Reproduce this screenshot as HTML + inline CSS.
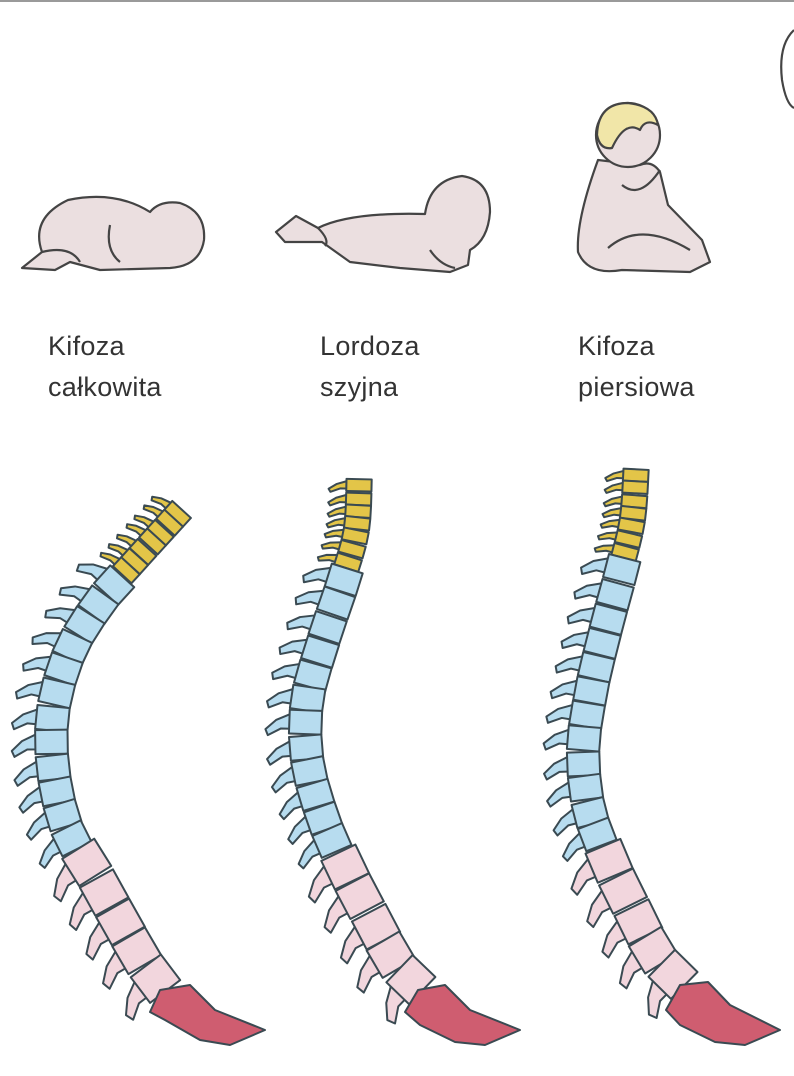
<!DOCTYPE html>
<html><head><meta charset="utf-8"><style>
html,body{margin:0;padding:0;background:#fff;width:794px;height:1076px;overflow:hidden;}
svg{position:absolute;left:0;top:0}
.lbl{position:absolute;font-family:"Liberation Sans",sans-serif;font-size:27px;color:#333;line-height:41px;letter-spacing:0.3px}
</style></head><body>
<svg id="s" width="794" height="1076" viewBox="0 0 794 1076">
<rect x="0" y="0" width="794" height="2" fill="#9a9a9a"/>
<g fill="#ebdfe0" stroke="#444" stroke-width="2.2" stroke-linejoin="round">
 <path d="M22,268 L42,252 Q30,218 68,200 Q115,190 150,212 Q160,200 180,203 Q206,212 204,240 Q200,266 170,268 L100,270 L70,262 L55,270 Z"/>
 <path d="M42,252 Q70,245 80,262" fill="none"/>
 <path d="M110,225 Q105,250 120,262" fill="none"/>
 <path d="M276,232 L296,216 L318,228 Q350,212 425,214 Q430,180 462,176 Q490,180 490,212 Q488,240 470,250 L468,265 L450,272 L400,268 L350,262 L322,242 L285,242 Z"/>
 <path d="M318,228 Q330,240 325,246" fill="none"/>
 <path d="M430,250 Q440,265 455,268" fill="none"/>
 <path d="M598,160 Q576,220 578,252 Q588,276 622,270 L690,272 L710,262 L702,240 L668,205 L660,172 Q652,160 640,165 Z"/>
 <circle cx="628" cy="135" r="32"/>
 <path d="M597,135 Q598,103 628,103 Q655,106 658,125 Q645,118 640,130 Q625,120 612,148 Q600,150 597,135 Z" fill="#f1e6a8"/>
 <path d="M622,185 Q640,200 660,170" fill="none"/>
 <path d="M608,248 Q640,220 690,250" fill="none"/>
 <path d="M794,30 Q778,45 782,80 Q786,104 794,108" fill="none"/>
</g>
<g id="sp" stroke="#3a4a52" stroke-width="2" stroke-linejoin="round"></g>
</svg>
<div class="lbl" style="left:48px;top:326px">Kifoza<br>całkowita</div>
<div class="lbl" style="left:320px;top:326px">Lordoza<br>szyjna</div>
<div class="lbl" style="left:578px;top:326px">Kifoza<br>piersiowa</div>
<script>
var spines=[
 {p:[[180,505],[130,560],[95,600],[65,650],[48,710],[48,770],[62,830],[90,880],[115,925],[138,965],[160,995]],s:[[160,990],[190,985],[215,1010],[265,1030],[230,1045],[200,1040],[165,1020],[150,1012]]},
 {p:[[355,478],[352,530],[338,580],[318,640],[302,700],[302,760],[318,820],[342,875],[368,925],[392,968],[418,995]],s:[[418,990],[445,985],[470,1010],[520,1030],[485,1045],[455,1042],[420,1025],[405,1012]]},
 {p:[[632,468],[628,520],[616,570],[600,630],[586,690],[578,750],[584,810],[604,865],[628,915],[652,960],[680,990]],s:[[680,985],[708,982],[730,1005],[780,1030],[745,1045],[715,1042],[680,1025],[666,1010]]}
];
function cr(pts,n){var out=[];for(var i=0;i<pts.length-1;i++){var p0=pts[Math.max(0,i-1)],p1=pts[i],p2=pts[i+1],p3=pts[Math.min(pts.length-1,i+2)];for(var k=0;k<n;k++){var t=k/n,t2=t*t,t3=t2*t;var f=function(a,b,c,d){return 0.5*((2*b)+(-a+c)*t+(2*a-5*b+4*c-d)*t2+(-a+3*b-3*c+d)*t3)};out.push([f(p0[0],p1[0],p2[0],p3[0]),f(p0[1],p1[1],p2[1],p3[1])]);}}out.push(pts[pts.length-1]);return out;}
var g=document.getElementById('sp'),h='';
spines.forEach(function(sp){
 var c=cr(sp.p,30),L=[0];for(var i=1;i<c.length;i++){L.push(L[i-1]+Math.hypot(c[i][0]-c[i-1][0],c[i][1]-c[i-1][1]));}
 var T=L[L.length-1];
 var defs=[];for(var i=0;i<7;i++)defs.push(['#e3c548',28]);for(i=0;i<12;i++)defs.push(['#b7dcef',36]);for(i=0;i<5;i++)defs.push(['#f2d6dd',42]);
 var w=[];defs.forEach(function(d,i){w.push(i<7?0.16/7:i<19?0.54/12:0.30/5)});
 var pos=0;
 defs.forEach(function(d,i){
  var mid=(pos+w[i]/2)*T;pos+=w[i];
  var j=0;while(j<L.length-1&&L[j]<mid)j++;
  var a=c[Math.max(0,j-1)],b=c[Math.min(c.length-1,j+1)];
  var ang=Math.atan2(b[1]-a[1],b[0]-a[0])*180/Math.PI;
  var seg=w[i]*T*0.95, x=c[j][0],y=c[j][1];
  var bw=d[1]*0.6;
  var body='M'+(-seg/2)+','+(-bw)+' L'+(seg/2)+','+(-bw)+' L'+(seg/2)+','+(bw*0.5)+' L'+(-seg/2)+','+(bw*0.5)+'Z';
  var pl=d[1]*0.55+(i<7?4:6);
  var proc='M'+(-seg*0.35)+','+(bw*0.4)+' L'+(-seg*0.05)+','+(bw*0.4+pl*0.6)+' L'+(seg*0.35)+','+(bw*0.4+pl)+' L'+(seg*0.6)+','+(bw*0.4+pl*0.9)+' L'+(seg*0.3)+','+(bw*0.4+pl*0.4)+' L'+(seg*0.3)+','+(bw*0.4)+'Z';
  h+='<g transform="translate('+x+','+y+') rotate('+ang+')" fill="'+d[0]+'"><path d="'+proc+'"/><path d="'+body+'"/></g>';
 });
 h+='<path fill="#cf5d70" d="M'+sp.s.map(function(p){return p.join(',')}).join(' L')+' Z"/>';
});
g.innerHTML=h;
</script>
</body></html>
